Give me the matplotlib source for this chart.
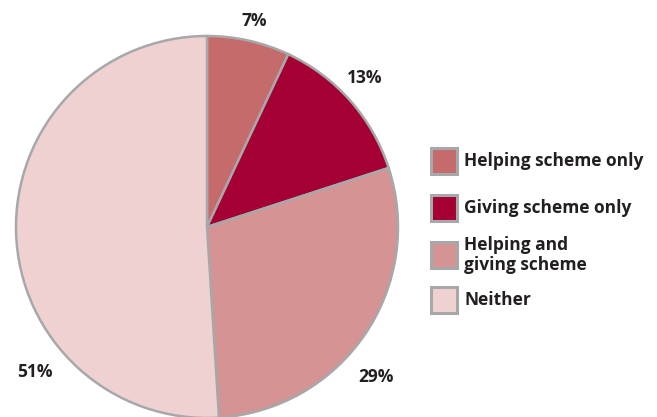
import matplotlib.pyplot as plt
from matplotlib.patches import Rectangle

categories = ["Helping scheme only", "Giving scheme only", "Helping and\ngiving scheme", "Neither"]
shares = [7, 13, 29, 51]
colors = ["#C56B6B", "#A50034", "#D59393", "#F0D1D1"]
edge = "#A7A8AA"
ink = "#231F20"

W, H = 657, 417
fig = plt.figure(figsize=(W / 100, H / 100), dpi=100)
plt.rcParams['font.family'] = ['Open Sans', 'DejaVu Sans']

# pie axes placed by pixel centre and radius
cx, cy, r = 207, 227, 191
ax = fig.add_axes([(cx - r) / W, (H - cy - r) / H, 2 * r / W, 2 * r / H])
ax.pie(shares, colors=colors, startangle=90, counterclock=False, radius=1,
       wedgeprops=dict(edgecolor=edge, linewidth=1.8))
ax.set_xlim(-1, 1)
ax.set_ylim(-1, 1)
ax.set_aspect('equal')
ax.axis('off')

# percentage labels outside the slices (pixel positions)
label_pos = [(254, 21), (365, 78), (376, 377), (35, 372)]
for v, (x, y) in zip(shares, label_pos):
    fig.text(x / W, 1 - y / H, f"{v}%", ha='center', va='center',
             fontsize=12.5, fontweight='bold', color=ink)

# legend drawn by hand
rows = [161, 208, 255, 300]
box = 26
for name, col, y in zip(categories, colors, rows):
    fig.patches.append(Rectangle((431 / W, 1 - (y + box / 2) / H), box / W, box / H,
                                 transform=fig.transFigure, facecolor=col,
                                 edgecolor=edge, linewidth=2.2))
    fig.text(464 / W, 1 - y / H, name, ha='left', va='center', fontsize=12.5,
             fontweight='bold', color=ink, linespacing=1.15)

fig.savefig("out.png", dpi=100)
